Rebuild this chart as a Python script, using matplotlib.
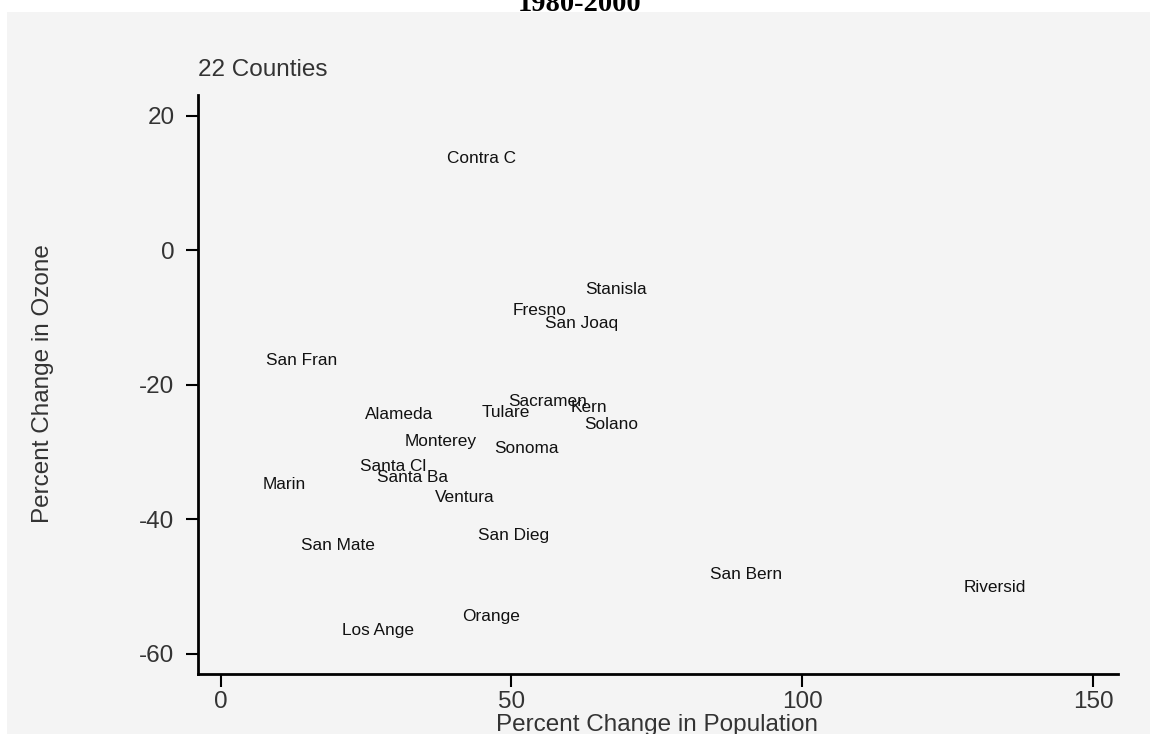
import matplotlib
matplotlib.use("Agg")
import matplotlib.pyplot as plt
from matplotlib.patches import Rectangle

# County-level change, 1980-2000
counties = ["Contra C", "Stanisla", "Fresno", "San Joaq", "San Fran", "Sacramen",
            "Kern", "Tulare", "Alameda", "Solano", "Monterey", "Sonoma",
            "Santa Cl", "Santa Ba", "Marin", "Ventura", "San Dieg", "San Mate",
            "San Bern", "Riversid", "Orange", "Los Ange"]
pop_change = [44.8, 67.9, 54.9, 62.1, 13.9, 56.2,
              63.3, 49.1, 30.6, 67.2, 37.8, 52.6,
              29.6, 33.0, 10.9, 42.0, 50.4, 20.2,
              90.4, 133.2, 46.5, 27.1]
ozone_change = [13.9, -5.6, -8.7, -10.7, -16.2, -22.2,
                -23.1, -23.9, -24.2, -25.7, -28.2, -29.2,
                -31.9, -33.6, -34.6, -36.5, -42.2, -43.6,
                -47.9, -49.9, -54.2, -56.3]

x_ticks = [0, 50, 100, 150]
y_ticks = [20, 0, -20, -40, -60]

W, H = 1150, 734
fig = plt.figure(figsize=(W / 100, H / 100), dpi=100, facecolor="white")

# light grey graph region
fig.patches.append(Rectangle((7 / W, 0), 1 - 7 / W, 1 - 12 / H,
                             transform=fig.transFigure, facecolor="#f4f4f4",
                             edgecolor="none", zorder=-10))

ax = fig.add_axes([198 / W, 60 / H, (1118 - 198) / W, (674 - 95) / H])
ax.set_zorder(5)
ax.set_facecolor("none")
ax.set_xlim(-3.9, 154.3)
ax.set_ylim(-63.0, 23.1)

for side in ("top", "right"):
    ax.spines[side].set_visible(False)
for side in ("left", "bottom"):
    ax.spines[side].set_linewidth(2.0)
    ax.spines[side].set_color("black")

ax.set_xticks(x_ticks)
ax.set_yticks(y_ticks)
ax.set_xticklabels([str(v) for v in x_ticks])
ax.set_yticklabels([str(v) for v in y_ticks])
ax.tick_params(axis="both", direction="out", length=9, width=1.5, color="black",
               labelsize=17.5, labelcolor="#333333")
ax.tick_params(axis="y", pad=8)
ax.tick_params(axis="x", pad=3.5)
for lab in ax.get_xticklabels() + ax.get_yticklabels():
    lab.set_family("Liberation Sans")

# invisible markers, labels centred on each point
ax.scatter(pop_change, ozone_change, s=0, alpha=0)
for name, x, y in zip(counties, pop_change, ozone_change):
    ax.annotate(name, (x, y), xytext=(0, -4.4), textcoords="offset points",
                ha="center", va="baseline", fontsize=12.4, color="#111111",
                family="Liberation Sans")

fig.text(657 / W, (H - 731) / H, "Percent Change in Population",
         ha="center", va="baseline", fontsize=17.5, color="#333333",
         family="Liberation Sans")
fig.text(43 / W, 1 - 384 / H, "Percent Change in Ozone", rotation=90,
         ha="center", va="center", fontsize=17.5, color="#333333",
         family="Liberation Sans")
fig.text(198 / W, (H - 75.5) / H, "22 Counties", ha="left", va="baseline",
         fontsize=17.5, color="#333333", family="Liberation Sans")
fig.text(580 / W, (H - 11) / H, "1980-2000", ha="center", va="baseline",
         fontsize=20.5, fontweight="bold", color="black",
         family="Liberation Serif", zorder=6)

fig.savefig("out.png", dpi=100, facecolor="white")
